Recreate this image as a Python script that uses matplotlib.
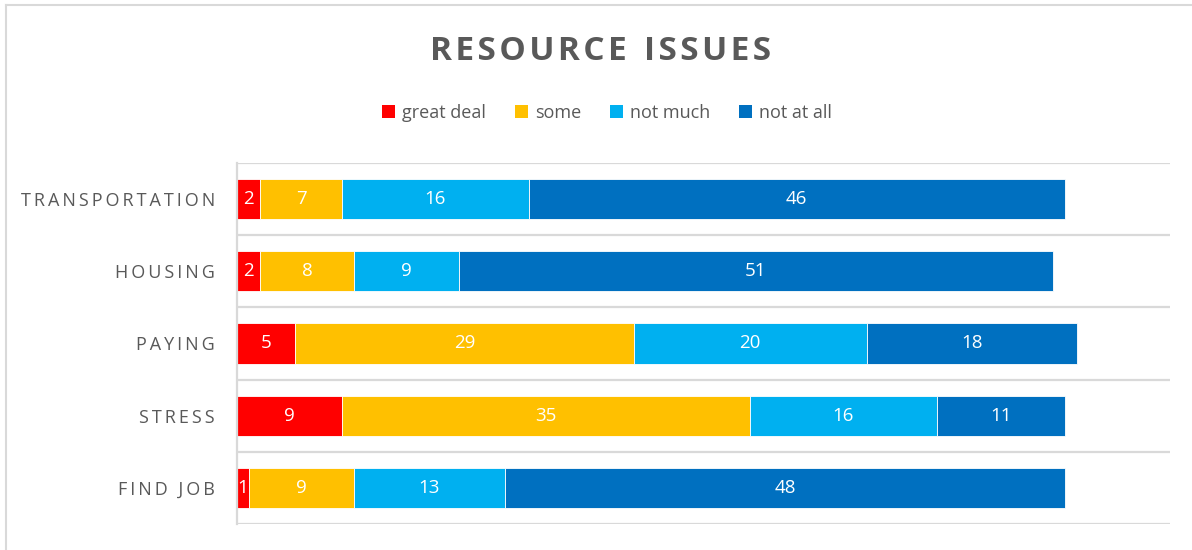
import numpy as np
import matplotlib
matplotlib.use("Agg")
import matplotlib.pyplot as plt
from matplotlib.patches import Patch
from matplotlib.lines import Line2D

plt.rcParams["font.family"] = ["Open Sans", "DejaVu Sans"]

# ----------------------------------------------------------------------
# DATA
# ----------------------------------------------------------------------
categories = ["TRANSPORTATION", "HOUSING", "PAYING", "STRESS", "FIND JOB"]
series_names = ["great deal", "some", "not much", "not at all"]
great_deal = [2, 2, 5, 9, 1]
some = [7, 8, 29, 35, 9]
not_much = [16, 9, 20, 16, 13]
not_at_all = [46, 51, 18, 11, 48]

colors = ["#FF0000", "#FFC000", "#00B0F0", "#0070C0"]
text_grey = "#595959"
grid_grey = "#D9D9D9"


def spaced(s, sep="\u2009"):
    # fake letter spacing with thin spaces
    return sep.join(s)


# ----------------------------------------------------------------------
# FIGURE
# ----------------------------------------------------------------------
fig = plt.figure(figsize=(11.92, 5.5), dpi=100)
ax = fig.add_axes([237 / 1192, 26 / 550, 933 / 1192, 361 / 550])

y = np.arange(len(categories))
left = np.zeros(len(categories))
for name, vals, col in zip(series_names, [great_deal, some, not_much, not_at_all], colors):
    ax.barh(y, vals, left=left, height=0.555, color=col,
            edgecolor="white", linewidth=0.6, label=name)
    for yi, v, l in zip(y, vals, left):
        ax.text(l + v / 2, yi, str(v), ha="center", va="center",
                color="white", fontsize=13.5)
    left = left + np.array(vals)

ax.set_xlim(0, 80)
ax.set_ylim(len(categories) - 0.5, -0.5)
ax.set_yticks(y)
ax.set_yticklabels([spaced(c) for c in categories], fontsize=13, color=text_grey)
ax.tick_params(axis="y", length=0, pad=16)
ax.set_xticks([])

# category gridlines between bars
ax.set_yticks(np.arange(len(categories) + 1) - 0.5, minor=True)
ax.tick_params(axis="y", which="minor", length=0)
ax.grid(axis="y", which="minor", color=grid_grey, linewidth=1.6)
ax.set_axisbelow(True)
for s in ["top", "right", "bottom"]:
    ax.spines[s].set_visible(False)
ax.spines["left"].set_color(grid_grey)
ax.spines["left"].set_linewidth(1.6)

# title
fig.text(601 / 1192, 1 - 51 / 550, spaced("RESOURCE", "\u200a") + "  " + spaced("ISSUES", "\u200a"),
         ha="center", va="center", fontsize=24, fontweight="bold", color=text_grey)

# legend
handles = [Patch(facecolor=c, edgecolor="none") for c in colors]
fig.legend(handles, series_names, loc="center", bbox_to_anchor=(607 / 1192, 1 - 113 / 550),
           ncol=4, frameon=False, fontsize=13, labelcolor=text_grey,
           handlelength=0.7, handleheight=0.7, handletextpad=0.4, columnspacing=1.6)

# chart area border (top and left)
fig.add_artist(Line2D([6 / 1192, 6 / 1192], [0, 1 - 5 / 550], transform=fig.transFigure,
                      color=grid_grey, linewidth=1.5))
fig.add_artist(Line2D([6 / 1192, 1], [1 - 5 / 550, 1 - 5 / 550], transform=fig.transFigure,
                      color=grid_grey, linewidth=1.5))

fig.savefig("out.png", dpi=100)
